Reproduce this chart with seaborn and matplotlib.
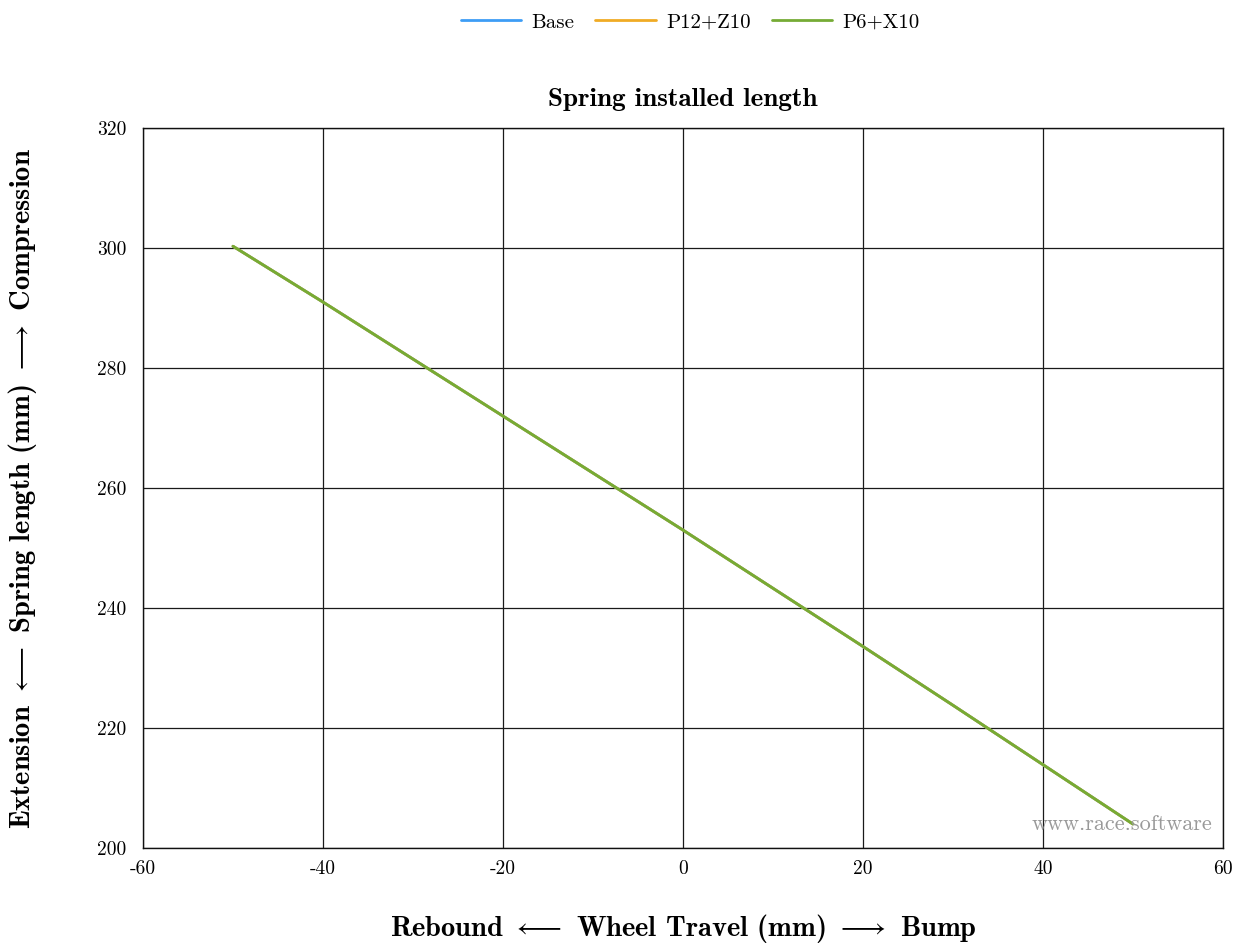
import matplotlib
matplotlib.use("Agg")
import matplotlib.pyplot as plt
import seaborn as sns
import pandas as pd

wheel_travel = [-50, -40, -30, -20, -10, 0, 10, 20, 30, 40, 50]
base = [300.3, 291.0, 281.5, 272.0, 262.5, 253.0, 243.3, 233.6, 223.8, 213.9, 204.0]
p12_z10 = [300.3, 291.0, 281.5, 272.0, 262.5, 253.0, 243.3, 233.6, 223.8, 213.9, 204.0]
p6_x10 = [300.3, 291.0, 281.5, 272.0, 262.5, 253.0, 243.3, 233.6, 223.8, 213.9, 204.0]
series_names = ["Base", "P12+Z10", "P6+X10"]
colors = ["#3d9df5", "#f0ab25", "#76ab35"]
x_ticks = [-60, -40, -20, 0, 20, 40, 60]
y_ticks = [200, 220, 240, 260, 280, 300, 320]

sns.set_theme(style="white")
plt.rcParams['font.family'] = ['cmr10', 'DejaVu Sans']
plt.rcParams['mathtext.fontset'] = 'cm'
plt.rcParams['axes.unicode_minus'] = False
plt.rcParams['axes.formatter.use_mathtext'] = False
plt.rcParams['text.color'] = 'black'
plt.rcParams['axes.labelcolor'] = 'black'
plt.rcParams['xtick.color'] = 'black'
plt.rcParams['ytick.color'] = 'black'

rows = []
for name, vals in zip(series_names, [base, p12_z10, p6_x10]):
    for x, y in zip(wheel_travel, vals):
        rows.append({"x": x, "y": y, "series": name})
df = pd.DataFrame(rows)

fig = plt.figure(figsize=(12.39, 9.47), dpi=100)
ax = fig.add_axes([0.1154, 0.1045, 0.8716, 0.7603])

sns.lineplot(data=df, x="x", y="y", hue="series", palette=colors,
             hue_order=series_names, ax=ax, linewidth=2, legend=True)

ax.set_xlim(-60, 60)
ax.set_ylim(200, 320)
ax.set_xticks(x_ticks)
ax.set_yticks(y_ticks)
ax.set_xticklabels([str(t) for t in x_ticks], fontsize=14)
ax.set_yticklabels([str(t) for t in y_ticks], fontsize=14)
ax.grid(True, color="#1a1a1a", linewidth=0.9)
for s in ax.spines.values():
    s.set_color("#111111")
    s.set_linewidth(1.0)
ax.tick_params(axis="both", direction="in", length=5, color="#111111")
ax.tick_params(axis="y", pad=12)
ax.tick_params(axis="x", pad=9)

ax.set_title("Spring installed length", fontsize=19.5, fontweight="bold",
             family=['cmb10', 'DejaVu Sans'], pad=16, color="black")
ax.set_xlabel(r"Rebound $\longleftarrow$ Wheel Travel (mm) $\longrightarrow$ Bump",
              fontsize=20.5, family=['cmb10', 'DejaVu Sans'], labelpad=24)
ax.set_ylabel(r"Extension $\longleftarrow$ Spring length (mm) $\longrightarrow$ Compression",
              fontsize=20.5, family=['cmb10', 'DejaVu Sans'], labelpad=42)

ax.text(0.99, 0.02, "www.race.software", transform=ax.transAxes, ha="right",
        va="bottom", fontsize=16, color="#999999")

handles, labels = ax.get_legend_handles_labels()
ax.legend(handles, labels, loc="upper center", bbox_to_anchor=(0.557, 1.006),
          bbox_transform=fig.transFigure, ncol=3, frameon=False, fontsize=15,
          handlelength=2.9, handletextpad=0.5, columnspacing=1.0)

fig.savefig("out.png", dpi=100)
